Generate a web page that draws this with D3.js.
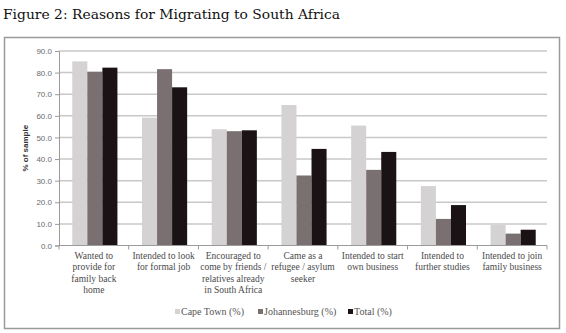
<!DOCTYPE html>
<html>
<head>
<meta charset="utf-8">
<script src="https://cdn.jsdelivr.net/npm/d3@7"></script>
<style>
  body { margin: 0; background: #fff; }
  svg { display: block; }
</style>
</head>
<body>
<div id="chart"></div>
<script>
// --- data ---
const categories = [
  ["Wanted to", "provide for", "family back", "home"],
  ["Intended to look", "for formal job"],
  ["Encouraged to", "come by friends /", "relatives already", "in South Africa"],
  ["Came as a", "refugee / asylum", "seeker"],
  ["Intended to start", "own business"],
  ["Intended to", "further studies"],
  ["Intended to join", "family business"]
];
const capeTown     = [85.2, 59.2, 53.8, 65.0, 55.5, 27.5, 9.5];
const johannesburg = [80.4, 81.6, 52.9, 32.4, 35.0, 12.3, 5.5];
const total        = [82.3, 73.2, 53.3, 44.7, 43.3, 18.7, 7.3];
const yTicks = [0, 10, 20, 30, 40, 50, 60, 70, 80, 90];

const series = [
  { label: "Cape Town (%)",    values: capeTown,     color: "#d5d2d3" },
  { label: "Johannesburg (%)", values: johannesburg, color: "#7a7071" },
  { label: "Total (%)",        values: total,        color: "#1a1214" }
];

const W = 566, H = 333;
const plot = { left: 59, right: 547, top: 51, bottom: 245.5 };

const svg = d3.select("#chart").append("svg")
  .attr("width", W)
  .attr("height", H);

// title
svg.append("text")
  .attr("x", 3)
  .attr("y", 19)
  .attr("font-family", "DejaVu Serif, serif")
  .attr("font-size", "13px")
  .attr("fill", "#111")
  .attr("textLength", 337)
  .attr("lengthAdjust", "spacingAndGlyphs")
  .text("Figure 2: Reasons for Migrating to South Africa");

// outer frame
svg.append("rect")
  .attr("x", 4.5)
  .attr("y", 37.5)
  .attr("width", 555)
  .attr("height", 291)
  .attr("fill", "none")
  .attr("stroke", "#9a9a9a")
  .attr("stroke-width", 1.5);

// scales
const x = d3.scaleBand()
  .domain(d3.range(categories.length))
  .range([plot.left, plot.right])
  .paddingInner(0)
  .paddingOuter(0);

const x1 = d3.scaleBand()
  .domain(d3.range(series.length))
  .range([2, x.bandwidth()])
  .paddingOuter(0.75)
  .paddingInner(0);

const y = d3.scaleLinear()
  .domain([0, 90])
  .range([plot.bottom, plot.top]);

// gridlines
svg.append("g")
  .selectAll("line")
  .data(yTicks.filter(d => d > 0))
  .join("line")
  .attr("x1", plot.left)
  .attr("x2", plot.right)
  .attr("y1", d => y(d))
  .attr("y2", d => y(d))
  .attr("stroke", "#c8c8c8")
  .attr("stroke-width", 1.5);

// y axis
const yAxis = svg.append("g")
  .attr("transform", `translate(${plot.left},0)`)
  .call(d3.axisLeft(y).tickValues(yTicks).tickFormat(d3.format(".1f")).tickSize(4).tickPadding(3));
yAxis.select(".domain").attr("stroke", "#9a9a9a");
yAxis.selectAll(".tick line").attr("stroke", "#9a9a9a");
yAxis.selectAll("text")
  .attr("font-family", "Liberation Sans, Arial, sans-serif")
  .attr("font-size", "8px")
  .attr("fill", "#6a6a6a");

// y label
svg.append("text")
  .attr("transform", `translate(28,${(plot.top + plot.bottom) / 2}) rotate(-90)`)
  .attr("text-anchor", "middle")
  .attr("font-family", "Liberation Sans, Arial, sans-serif")
  .attr("font-size", "8px")
  .attr("font-weight", "bold")
  .attr("fill", "#333")
  .text("% of sample");

// bars
const groups = svg.append("g")
  .selectAll("g")
  .data(categories)
  .join("g")
  .attr("transform", (d, i) => `translate(${x(i)},0)`);

groups.selectAll("rect")
  .data((d, i) => series.map((s, j) => ({ j, v: s.values[i], color: s.color })))
  .join("rect")
  .attr("x", d => x1(d.j))
  .attr("width", x1.bandwidth())
  .attr("y", d => y(d.v))
  .attr("height", d => y(0) - y(d.v))
  .attr("fill", d => d.color);

// x axis line + category separators
svg.append("line")
  .attr("x1", plot.left)
  .attr("x2", plot.right)
  .attr("y1", plot.bottom)
  .attr("y2", plot.bottom)
  .attr("stroke", "#9a9a9a");

svg.append("g")
  .selectAll("line")
  .data(d3.range(categories.length + 1))
  .join("line")
  .attr("x1", i => plot.left + i * x.bandwidth())
  .attr("x2", i => plot.left + i * x.bandwidth())
  .attr("y1", plot.bottom)
  .attr("y2", plot.bottom + 4)
  .attr("stroke", "#9a9a9a");

// category labels
groups.append("text")
  .attr("text-anchor", "middle")
  .attr("font-family", "Liberation Serif, serif")
  .attr("font-size", "9.5px")
  .attr("fill", "#4a4a4a")
  .selectAll("tspan")
  .data(d => d)
  .join("tspan")
  .attr("x", x.bandwidth() / 2)
  .attr("y", (d, k) => 259 + k * 11.3)
  .text(d => d);

// legend
const legendX = [175, 258, 348];
const legend = svg.append("g")
  .selectAll("g")
  .data(series)
  .join("g")
  .attr("transform", (d, i) => `translate(${legendX[i]},315)`);

legend.append("rect")
  .attr("x", 0)
  .attr("y", -6)
  .attr("width", 5)
  .attr("height", 5)
  .attr("fill", d => d.color);

legend.append("text")
  .attr("x", 6)
  .attr("y", 0)
  .attr("font-family", "Liberation Serif, serif")
  .attr("font-size", "10px")
  .attr("fill", "#555")
  .text(d => d.label);
</script>
</body>
</html>
